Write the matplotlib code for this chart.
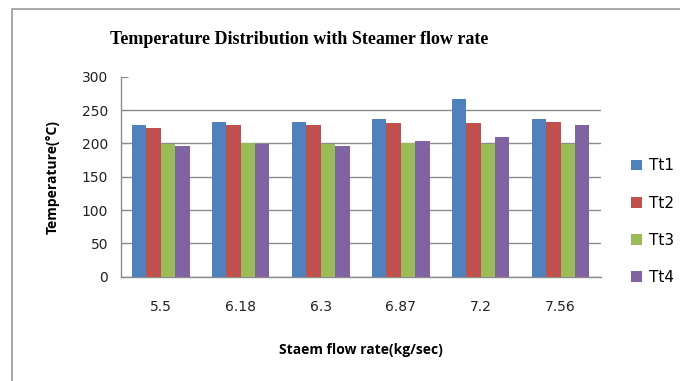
import numpy as np
import matplotlib.pyplot as plt
from matplotlib.patches import Rectangle

# datos
flow_rates = ['5.5', '6.18', '6.3', '6.87', '7.2', '7.56']
tt1 = [228, 232, 232, 237, 266, 237]
tt2 = [223, 228, 227, 230, 230, 232]
tt3 = [199, 200, 199, 200, 199, 199]
tt4 = [196, 199, 196, 203, 209, 228]

series = [tt1, tt2, tt3, tt4]
names = ['Tt1', 'Tt2', 'Tt3', 'Tt4']
colors = ['#4F81BD', '#C0504D', '#9BBB59', '#8064A2']

fig = plt.figure(figsize=(6.8, 3.81), dpi=100)
ax = fig.add_axes([120.7 / 680, 104.3 / 381, 480 / 680, 200 / 381])

# marco del area del grafico
fig.patches.append(Rectangle((12 / 680, -0.1), 1.2, (372 / 381) + 0.1,
                             transform=fig.transFigure, fill=False,
                             edgecolor='#9a9a9a', linewidth=1.2))

x = np.arange(len(flow_rates))
w = 0.18
for i, (vals, name, c) in enumerate(zip(series, names, colors)):
    ax.bar(x + (i - 1.5) * w, vals, width=w, color=c, label=name, zorder=3)

ax.set_xlim(-0.5, len(flow_rates) - 0.5)
ax.set_ylim(0, 300)
ax.set_yticks(range(0, 301, 50))
ax.set_xticks(x)
ax.set_xticklabels(flow_rates)

ax.grid(axis='y', color='#8c8c8c', linewidth=1.0, zorder=0)
ax.get_ygridlines()[-1].set_visible(False)
for s in ['top', 'right']:
    ax.spines[s].set_visible(False)
for s in ['left', 'bottom']:
    ax.spines[s].set_color('#8c8c8c')
    ax.spines[s].set_linewidth(1.0)
ax.tick_params(axis='x', length=0, pad=17, labelsize=10, labelcolor='#222222')
ax.tick_params(axis='y', direction='in', length=5, color='#8c8c8c',
               pad=9, labelsize=10, labelcolor='#222222')

ax.set_ylabel('Temperature(°C)', fontsize=10, fontweight='bold',
              family='Open Sans')
ax.yaxis.set_label_coords(-0.128, 0.5)
ax.set_xlabel('Staem flow rate(kg/sec)', fontsize=10, fontweight='bold',
              family='Open Sans')
ax.xaxis.set_label_coords(0.5, -0.33)

fig.text(110 / 680, 1 - 40 / 381, 'Temperature Distribution with Steamer flow rate',
         ha='left', va='center', fontsize=13, fontweight='bold',
         family='Liberation Serif')

ax.legend(loc='center left', bbox_to_anchor=(1.05, 0.275), frameon=False,
          fontsize=11, handlelength=0.7, handleheight=0.7, handletextpad=0.5,
          labelspacing=1.45, borderaxespad=0)

fig.savefig('out.png', dpi=100)
